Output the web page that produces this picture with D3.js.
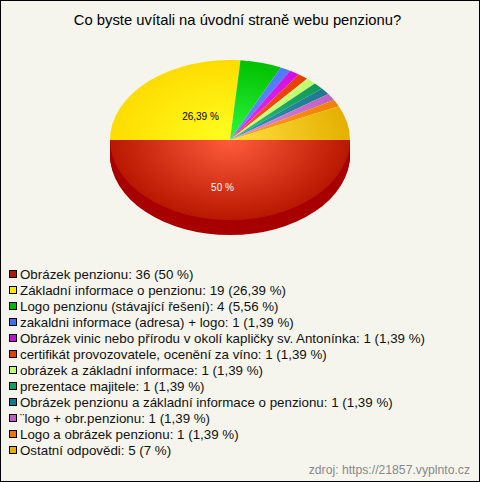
<!DOCTYPE html>
<html><head><meta charset="utf-8">
<script src="https://cdn.jsdelivr.net/npm/d3@7"></script>
<style>html,body{margin:0;padding:0;background:#fff}svg{display:block}text{font-family:"Liberation Sans",Arial,sans-serif}</style>
</head><body><svg id="c" width="480" height="482"></svg>
<script>
const titleText = "Co byste uvítali na úvodní straně webu penzionu?";
const sourceText = "zdroj: https://21857.vyplnto.cz";
const categories = ["Obrázek penzionu","Základní informace o penzionu","Logo penzionu (stávající řešení)","zakaldni informace (adresa) + logo","Obrázek vinic nebo přírodu v okolí kapličky sv. Antonínka","certifikát provozovatele, ocenění za víno","obrázek a základní informace","prezentace majitele","Obrázek penzionu a základní informace o penzionu","¨logo + obr.penzionu","Logo a obrázek penzionu","Ostatní odpovědi"];
const values = [36,19,4,1,1,1,1,1,1,1,1,5];
const percentLabels = ["50 %","26,39 %","5,56 %","1,39 %","1,39 %","1,39 %","1,39 %","1,39 %","1,39 %","1,39 %","1,39 %","7 %"];
const legendColors = ["#b01800","#ffe800","#00b800","#4070f0","#c010d0","#e04000","#c0ff70","#10a060","#107890","#c060c0","#e87800","#e8b000"];
const innerColors = ["#ff5c3c","#ffff20","#30f840","#6090ff","#e830f8","#ff5820","#d0ff80","#30c080","#3098b0","#e090e0","#ffa020","#ffe040"];
const edgeColors = ["#b81800","#ffdc00","#00c000","#5078ff","#d010e0","#e83c00","#c0ff70","#109858","#207890","#c060c0","#f08000","#e4b000"];
const svg = d3.select("#c");
const W=480,H=482,cx=230,cy=140,rx=120,ry=80,depth=15;
svg.append("rect").attr("x",.5).attr("y",.5).attr("width",W-1).attr("height",H-1).attr("fill","#f5f5ed").attr("stroke","#000");
svg.append("text").attr("x",237.5).attr("y",25).attr("text-anchor","middle").attr("font-size",14.8).attr("fill","#000").text(titleText);
const pie=d3.pie().sort(null).startAngle(Math.PI/2).endAngle(Math.PI/2+2*Math.PI);
const arcs=pie(values);
const arc=d3.arc().innerRadius(0).outerRadius(rx);
const defs=svg.append("defs");
arcs.forEach((d,i)=>{
  const g=defs.append("radialGradient").attr("id","g"+i).attr("gradientUnits","userSpaceOnUse").attr("cx",0).attr("cy",0).attr("r",rx);
  g.append("stop").attr("offset","0").attr("stop-color",innerColors[i]);
  g.append("stop").attr("offset","1").attr("stop-color",edgeColors[i]);
});
const sy=ry/rx;
d3.range(depth,0,-1).forEach(k=>{
  svg.append("g").attr("transform",`translate(${cx},${cy+k}) scale(1,${sy})`)
    .selectAll("path").data(arcs.slice(0,1)).join("path").attr("d",arc).attr("fill","#a80000");
});
svg.append("g").attr("transform",`translate(${cx},${cy}) scale(1,${sy})`)
  .selectAll("path").data(arcs).join("path").attr("d",arc).attr("fill",(d,i)=>`url(#g${i})`);
svg.append("text").attr("x",222.5).attr("y",191).attr("text-anchor","middle").attr("font-size",10).attr("fill","#fff").text(percentLabels[0]);
svg.append("text").attr("x",200.5).attr("y",120).attr("text-anchor","middle").attr("font-size",10).attr("fill","#000").text(percentLabels[1]);
const yL=d3.scaleLinear().domain([0,11]).range([274,450]);
const leg=svg.append("g").selectAll("g").data(categories).join("g").attr("transform",(d,i)=>`translate(0,${yL(i)})`);
leg.append("rect").attr("x",9.5).attr("y",-3.5).attr("width",7).attr("height",7).attr("fill",(d,i)=>legendColors[i]).attr("stroke","#000");
leg.append("text").attr("x",20).attr("y",5).attr("font-size",13.33).attr("fill","#111").text((d,i)=>`${d}: ${values[i]} (${percentLabels[i]})`);
svg.append("text").attr("x",470).attr("y",474).attr("text-anchor","end").attr("font-size",12.2).attr("fill","#888").text(sourceText);
</script></body></html>
